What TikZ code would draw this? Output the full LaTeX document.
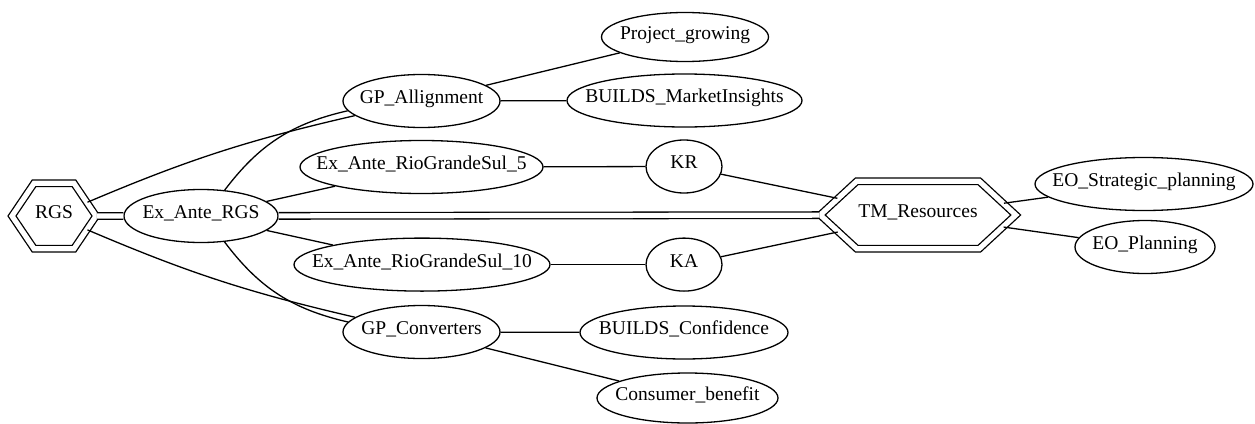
\documentclass[tikz,border=0pt]{standalone}
\usepackage{fontspec}
\setmainfont{Liberation Serif}
\usetikzlibrary{shapes.geometric,shapes.symbols}
\newcommand{\lbl}[1]{\makebox[0pt]{#1}}
\tikzset{
  ell/.style={draw, ellipse, inner sep=0pt, minimum height=53pt, text height=0.68em, text depth=0.2em},
  hexa/.style={draw, signal, signal to=east and west, double, double distance=5.2pt, inner sep=0pt, text height=0.68em, text depth=0.2em},
  dbl/.style={double, double distance=5.2pt},
}
\begin{document}
\begin{tikzpicture}[x=1pt, y=-1pt, line width=1.3pt, font=\fontsize{19.5}{23}\selectfont]
\useasboundingbox (0,0) rectangle (1255,423);
\node[hexa, minimum width=84pt, minimum height=65.5pt, signal pointer angle=112] (rgs) at (54,216) {\lbl{RGS}};
\node[ell, minimum width=154pt] (exrgs) at (201,216) {\lbl{Ex\_Ante\_RGS}};
\node[ell, minimum width=157pt] (gpa) at (421.5,101) {\lbl{GP\_Allignment}};
\node[ell, minimum width=167pt, minimum height=49pt] (pg) at (685,37) {\lbl{Project\_growing}};
\node[ell, minimum width=235pt] (bmi) at (684.5,100.5) {\lbl{BUILDS\_MarketInsights}};
\node[ell, minimum width=243pt] (ex5) at (421.5,167) {\lbl{Ex\_Ante\_RioGrandeSul\_5}};
\node[ell, minimum width=76pt] (kr) at (684,166.5) {\lbl{KR}};
\node[hexa, minimum width=195.5pt, minimum height=67.5pt, signal pointer angle=85.5] (tm) at (918,215) {\lbl{TM\_Resources}};
\node[ell, minimum width=218pt] (eos) at (1144,184) {\lbl{EO\_Strategic\_planning}};
\node[ell, minimum width=140pt] (eop) at (1145,247) {\lbl{EO\_Planning}};
\node[ell, minimum width=256pt] (ex10) at (422,264.6) {\lbl{Ex\_Ante\_RioGrandeSul\_10}};
\node[ell, minimum width=76pt] (ka) at (684,264.6) {\lbl{KA}};
\node[ell, minimum width=157pt] (gpc) at (421.5,332) {\lbl{GP\_Converters}};
\node[ell, minimum width=208pt] (bc) at (684,332.5) {\lbl{BUILDS\_Confidence}};
\node[ell, minimum width=181pt, minimum height=50pt] (cb) at (687.5,398) {\lbl{Consumer\_benefit}};
\draw[dbl] (rgs) -- (exrgs);
\draw[dbl] (exrgs) -- (tm);
\draw (rgs) to[bend left=5] (gpa);
\draw (rgs) to[bend right=5] (gpc);
\draw (exrgs) to[bend left=20] (gpa);
\draw (exrgs) to[bend right=20] (gpc);
\draw (exrgs) -- (ex5);
\draw (exrgs) -- (ex10);
\draw (gpa) -- (pg);
\draw (gpa) -- (bmi);
\draw (ex5) -- (kr);
\draw (kr) -- (tm);
\draw (ex10) -- (ka);
\draw (ka) -- (tm);
\draw (tm) -- (eos);
\draw (tm) -- (eop);
\draw (gpc) -- (bc);
\draw (gpc) -- (cb);
\end{tikzpicture}
\end{document}
